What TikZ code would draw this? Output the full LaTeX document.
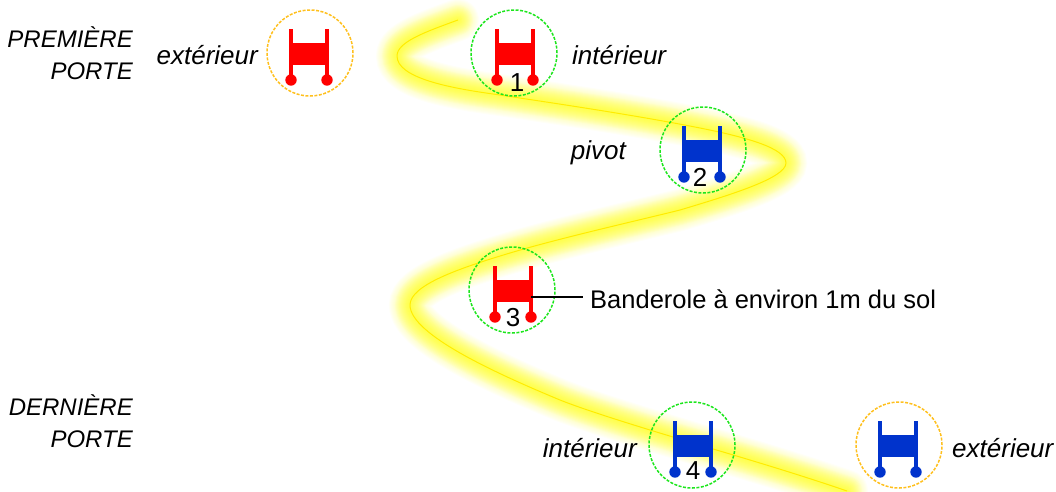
\documentclass[tikz,border=0pt]{standalone}
\usepackage{fontspec}
\setmainfont{Liberation Sans}
\definecolor{glowyellow}{RGB}{255,255,0}
\definecolor{walkerred}{RGB}{255,0,0}
\definecolor{walkerblue}{RGB}{0,51,204}
\definecolor{ringgreen}{RGB}{30,230,30}
\definecolor{ringorange}{RGB}{255,192,30}
\tikzset{
    ring/.style={circle, draw, dash pattern=on 3pt off 1.5pt, line width=1.5pt, minimum size=86pt, inner sep=0pt},
    greenring/.style={ring, draw=ringgreen},
    orangering/.style={ring, draw=ringorange},
    tag/.style={font=\fontsize{26}{30}\selectfont\itshape, inner sep=0pt},
    doorlabel/.style={font=\fontsize{24}{32}\selectfont\itshape, inner sep=0pt, align=right, anchor=east},
    number/.style={font=\fontsize{26}{30}\selectfont, inner sep=0pt},
    walker/.pic={
        \fill (-20,-24) rectangle (-16,27);
        \fill (16,-24) rectangle (20,27);
        \fill (-20,-10) rectangle (20,12);
        \fill (-18,27) circle (5.7);
        \fill (18,27) circle (5.7);
    }
}
\begin{document}
\begin{tikzpicture}[x=1pt, y=-1pt]
        \useasboundingbox (0,0) rectangle (1056,491);

        % glow
        \def\glowpath{(458,20) .. controls (425,32) and (397,42) .. (397,56)
            .. controls (397,78) and (450,88) .. (493,94)
            .. controls (560,104) and (640,116) .. (700,128)
            .. controls (745,137) and (786,148) .. (786,163)
            .. controls (786,178) and (730,195) .. (680,210)
            .. controls (640,220) and (560,238) .. (510,253)
            .. controls (460,268) and (410,285) .. (410,305)
            .. controls (410,335) and (500,375) .. (560,400)
            .. controls (600,416) and (700,445) .. (740,457)
            .. controls (780,469) and (815,480) .. (847,491)}
        \begin{scope}
            \clip (0,0) rectangle (1056,491);
            \foreach \w in {42,40,...,4} {
                \draw[glowyellow, opacity=0.03, line width=\w pt, line cap=round] \glowpath;
            }
            \foreach \w in {30,28,...,4} {
                \draw[glowyellow, opacity=0.035, line width=\w pt, line cap=round] \glowpath;
            }
            \draw[glowyellow!85!orange, line width=1pt] \glowpath;
        \end{scope}

        \node[orangering] (ringa) at (310,53) {};
        \node[greenring] (ringb) at (514,53) {};
        \node[greenring] (ringc) at (703,150) {};
        \node[greenring] (ringd) at (512,290) {};
        \node[greenring] (ringe) at (692,445) {};
        \node[orangering] (ringf) at (899,445) {};

        \pic[walkerred] at (309,53) {walker};
        \pic[walkerred] at (515,53) {walker};
        \pic[walkerblue] at (702,150) {walker};
        \pic[walkerred] at (513,290) {walker};
        \pic[walkerblue] at (693,445) {walker};
        \pic[walkerblue] at (898,445) {walker};

        \node[number] (numa) at (517,83) {1};
        \node[number] (numb) at (700,177) {2};
        \node[number] (numc) at (513,318) {3};
        \node[number] (numd) at (693,471) {4};

        \node[doorlabel] (first) at (133,53) {PREMIÈRE\\PORTE};
        \node[doorlabel] (last) at (133,421) {DERNIÈRE\\PORTE};

        \node[tag, anchor=east] (outa) at (258,55) {extérieur};
        \node[tag, anchor=west] (ina) at (572,55) {intérieur};
        \node[tag, anchor=east] (pivot) at (626,153) {pivot};
        \node[tag, anchor=east] (inb) at (637,448) {intérieur};
        \node[tag, anchor=west] (outb) at (952,448) {extérieur};

        \node[font=\fontsize{25.5}{30}\selectfont, inner sep=0pt, anchor=west] (banner) at (590,299) {Banderole à environ 1m du sol};
        \coordinate (bannerend) at (531,297);
        \draw[black, line width=1.4pt] (bannerend) -- ([xshift=-7pt]banner.west |- bannerend);
    \end{tikzpicture}
\end{document}
